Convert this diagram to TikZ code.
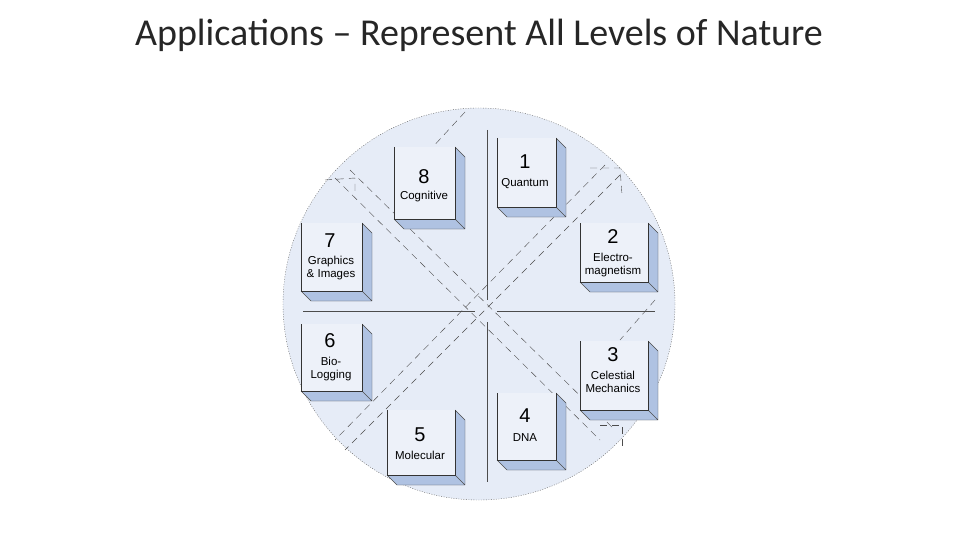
\documentclass[tikz,border=0pt]{standalone}
\usepackage{fontspec}
\setmainfont{Carlito}
\newfontfamily\arialf{Liberation Sans}
\definecolor{circ}{HTML}{E6ECF7}
\definecolor{sidec}{HTML}{AFC2E2}
\definecolor{facec}{HTML}{EDF1F9}
\begin{document}
\begin{tikzpicture}[x=1pt,y=-1pt,
  side/.style={fill=sidec},
  strip/.style={draw=black!70,dash pattern=on 7pt off 5pt,line width=0.4pt},
  num/.style={font=\arialf\fontsize{20}{20}\selectfont},
  lab/.style={font=\arialf\fontsize{11.5}{13}\selectfont,align=center}]
\useasboundingbox (0,0) rectangle (960,540);
\node[font=\fontsize{38}{42}\selectfont,text=black!85] (title) at (479,35) {Applications – Represent All Levels of Nature};
\fill[circ] (479,304) circle (196);
\draw[black!60,dash pattern=on 1pt off 1.5pt,line width=0.4pt] (479,304) circle (196);
% diagonal strips
\draw[strip] (335,178) -- (600,440); \draw[strip] (350,170) -- (615,430);
\draw[strip] (620,175) -- (345,450); \draw[strip] (605,165) -- (335,440);
\draw[strip] (465,112)--(430,150); \draw[strip] (655,300)--(620,340);
\draw[strip] (325,180)--(355,178)--(355,195); \draw[strip] (590,168)--(620,168)--(622,195);
\draw[strip] (600,425)--(622,425)--(622,450);
% cross lines
\draw[black!70] (487,130) -- (487,300); \draw[black!70] (487,322) -- (487,482);
\draw[black!70] (303,311) -- (475,311); \draw[black!70] (497,311) -- (655,311);
% boxes
\foreach \n/\xa/\ya/\xb/\yb in {b8/394/147/455/219, b1/497/138/556/207, b7/301/223/362/291, b2/580/223/648/282, b6/301/324/362/391, b3/580/341/648/410, b5/387/410/455/475, b4/497/393/556/460}{
  \fill[side] (\xb,\ya)--(\xb+10,\ya+10)--(\xb+10,\yb+10)--(\xb,\yb)--cycle;
  \fill[side] (\xa,\yb)--(\xb,\yb)--(\xb+10,\yb+10)--(\xa+10,\yb+10)--cycle;
  \draw[black!70,line width=0.4pt] (\xb,\ya)--(\xb+10,\ya+10)--(\xb+10,\yb+10)--(\xa+10,\yb+10)--(\xa,\yb) (\xb,\yb)--(\xb+10,\yb+10);
  \fill[facec] (\xa,\ya) rectangle (\xb,\yb);
  \draw[black!80,line width=0.5pt] (\xa,\ya)--(\xa,\yb)--(\xb,\yb)--(\xb,\ya);
  \coordinate (\n) at ({(\xa+\xb)/2},{(\ya+\yb)/2});
}
\node[num] (n8) at (424,177) {8}; \node[lab] (l8) at (424,197) {Cognitive};
\node[num] (n1) at (525,162) {1}; \node[lab] (l1) at (525,184) {Quantum};
\node[num] (n7) at (330,241) {7}; \node[lab] (l7) at (331,268) {Graphics\\ \& Images};
\node[num] (n2) at (613,237) {2}; \node[lab] (l2) at (613,265) {Electro-\\magnetism};
\node[num] (n6) at (330,341) {6}; \node[lab] (l6) at (331,369) {Bio-\\Logging};
\node[num] (n3) at (613,355) {3}; \node[lab] (l3) at (613,382) {Celestial\\Mechanics};
\node[num] (n5) at (420,435) {5}; \node[lab] (l5) at (420,455) {Molecular};
\node[num] (n4) at (525,416) {4}; \node[lab] (l4) at (525,438) {DNA};
\end{tikzpicture}
\end{document}
